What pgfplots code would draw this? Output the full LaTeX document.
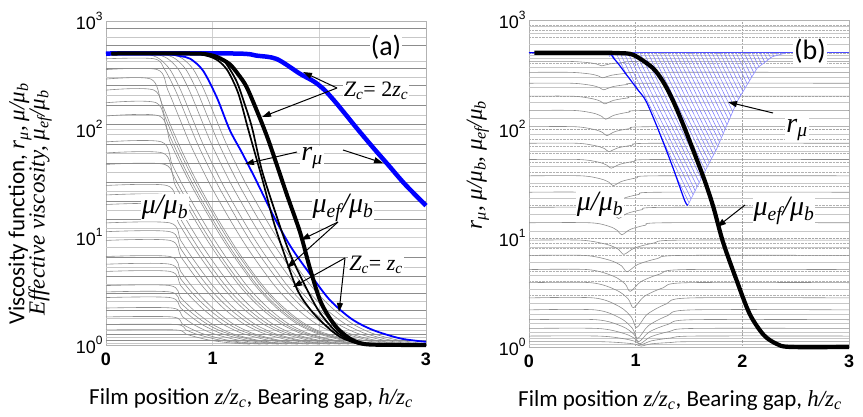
\documentclass[border=0pt]{standalone}
\usepackage{fontspec}
\setmainfont{Carlito}
\newfontfamily\arial{Liberation Sans}
\newfontfamily\tms{Liberation Serif}
\usepackage{pgfplots}
\pgfplotsset{compat=1.18}
\usetikzlibrary{arrows.meta,patterns.meta}
\newcommand{\mi}[1]{{\tms\itshape #1}}
\newcommand{\su}[1]{\textsubscript{\tms\itshape #1}}
\newcommand{\tenp}[1]{10\raisebox{0.5em}{\fontsize{12}{12}\selectfont #1}}
\tikzset{
  hl/.style={black!22, line width=0.7pt},
  hd/.style={black!45, line width=0.7pt},
  gc/.style={black!45, line width=0.6pt, smooth, tension=0.5},
  arr/.style={-{Triangle[length=9pt,width=6pt]}, line width=1pt},
}
\begin{document}
\begin{tikzpicture}[x=1pt,y=1pt]
\useasboundingbox (0,0) rectangle (863,416);
% ---------------- panel (a)
\begin{axis}[ymode=log, scale only axis, width=320pt, height=324pt, at={(106pt,71pt)}, anchor=south west,
    xmin=0, xmax=3, ymin=1, ymax=1000,
    xtick={0,1,2,3}, xticklabels={0,1,2,3},
    ytick={1,10,100,1000}, yticklabels={\tenp{0},\tenp{1},\tenp{2},\tenp{3}},
    major tick length=0pt, minor tick length=0pt,
    xticklabel style={font=\arial\bfseries\fontsize{18}{20}\selectfont, yshift=-4pt},
    yticklabel style={font=\arial\fontsize{18}{20}\selectfont},
    axis line style={gray!60, line width=0.8pt}, clip=false,
    xmajorgrids, ymajorgrids, grid style={gray!35, line width=0.6pt}]
\pgfplotsinvokeforeach{1.035,1.175,1.380,1.778,2.512,3.631,5.248,7.943,12.02,17.78,26.30,39.81,58.88,89.13,134.9,204.2,302.0,426.6,707.9}{\addplot[hl] coordinates {(0,#1) (3,#1)};}
\pgfplotsinvokeforeach{1.096,1.259,1.549,2.089,3.020,4.365,6.457,14.45,21.38,32.36,47.86,72.44,109.6,166.0,251.2,363.1,588.8,851.1}{\addplot[hd] coordinates {(0,#1) (3,#1)};}
% grey family mu/mu_b
\addplot[gc] coordinates {(0,500)(0.30,500)(0.40,490)(0.50,447)(0.60,355)(0.70,229)(0.80,132)(0.90,76)(1.00,47)(1.10,30)(1.20,20)(1.30,13.5)(1.40,9.3)(1.50,6.6)(1.60,4.8)(1.70,3.55)(1.80,2.75)(1.90,2.2)(2.00,1.82)(2.10,1.55)(2.20,1.38)(2.30,1.26)(2.50,1.12)(2.70,1.05)(2.90,1.02)};
\addplot[gc] coordinates {(0,500)(0.38,500)(0.48,490)(0.58,447)(0.68,355)(0.78,229)(0.88,132)(0.98,76)(1.08,47)(1.18,30)(1.28,20)(1.38,13.5)(1.48,9.3)(1.58,6.6)(1.68,4.8)(1.78,3.55)(1.88,2.75)(1.98,2.2)(2.08,1.82)(2.18,1.55)(2.28,1.38)(2.38,1.26)(2.58,1.12)(2.78,1.05)(2.98,1.02)};
\addplot[gc] coordinates {(0,500)(0.45,500)(0.55,490)(0.65,447)(0.75,355)(0.85,229)(0.95,132)(1.05,76)(1.15,47)(1.25,30)(1.35,20)(1.45,13.5)(1.55,9.3)(1.65,6.6)(1.75,4.8)(1.85,3.55)(1.95,2.75)(2.05,2.2)(2.15,1.82)(2.25,1.55)(2.35,1.38)(2.45,1.26)(2.65,1.12)(2.85,1.05)(3,1.03)};
\addplot[gc] coordinates {(0,500)(0.52,500)(0.62,490)(0.72,447)(0.82,355)(0.92,229)(1.02,132)(1.12,76)(1.22,47)(1.32,30)(1.42,20)(1.52,13.5)(1.62,9.3)(1.72,6.6)(1.82,4.8)(1.92,3.55)(2.02,2.75)(2.12,2.2)(2.22,1.82)(2.32,1.55)(2.42,1.38)(2.52,1.26)(2.72,1.12)(2.92,1.05)(3,1.04)};
\addplot[gc] coordinates {(0,447)(0.45,447)(0.55,355)(0.65,229)(0.75,132)(0.85,76)(0.95,47)(1.05,30)(1.15,20)(1.25,13.5)(1.35,9.3)(1.45,6.6)(1.55,4.8)(1.65,3.55)(1.75,2.75)(1.85,2.2)(1.95,1.82)(2.05,1.55)(2.15,1.38)(2.25,1.26)(2.45,1.12)(2.65,1.05)(2.85,1.02)};
\addplot[gc] coordinates {(0,355)(0.48,355)(0.58,229)(0.68,132)(0.78,76)(0.88,47)(0.98,30)(1.08,20)(1.18,13.5)(1.28,9.3)(1.38,6.6)(1.48,4.8)(1.58,3.55)(1.68,2.75)(1.78,2.2)(1.88,1.82)(1.98,1.55)(2.08,1.38)(2.18,1.26)(2.38,1.12)(2.58,1.05)(2.78,1.02)};
\addplot[gc] coordinates {(0,290)(0.42,290)(0.52,175)(0.62,100)(0.72,60)(0.82,37.5)(0.92,24.5)(1.02,16.4)(1.12,11.2)(1.22,7.8)(1.32,5.6)(1.42,4.1)(1.52,3.1)(1.62,2.45)(1.72,2.0)(1.82,1.68)(1.92,1.46)(2.02,1.32)(2.17,1.19)(2.37,1.08)(2.57,1.03)};
\addplot[gc] coordinates {(0,229)(0.45,229)(0.55,132)(0.65,76)(0.75,47)(0.85,30)(0.95,20)(1.05,13.5)(1.15,9.3)(1.25,6.6)(1.35,4.8)(1.45,3.55)(1.55,2.75)(1.65,2.2)(1.75,1.82)(1.85,1.55)(1.95,1.38)(2.05,1.26)(2.25,1.12)(2.45,1.05)(2.65,1.02)};
\addplot[gc] coordinates {(0,175)(0.47,175)(0.57,100)(0.67,60)(0.77,37.5)(0.87,24.5)(0.97,16.4)(1.07,11.2)(1.17,7.8)(1.27,5.6)(1.37,4.1)(1.47,3.1)(1.57,2.45)(1.67,2.0)(1.77,1.68)(1.87,1.46)(1.97,1.32)(2.12,1.19)(2.32,1.08)(2.52,1.03)};
\addplot[gc] coordinates {(0,132)(0.50,132)(0.60,76)(0.70,47)(0.80,30)(0.90,20)(1.00,13.5)(1.10,9.3)(1.20,6.6)(1.30,4.8)(1.40,3.55)(1.50,2.75)(1.60,2.2)(1.70,1.82)(1.80,1.55)(1.90,1.38)(2.00,1.26)(2.20,1.12)(2.40,1.05)(2.60,1.02)};
\addplot[gc] coordinates {(0,76)(0.52,76)(0.62,47)(0.72,30)(0.82,20)(0.92,13.5)(1.02,9.3)(1.12,6.6)(1.22,4.8)(1.32,3.55)(1.42,2.75)(1.52,2.2)(1.62,1.82)(1.72,1.55)(1.82,1.38)(1.92,1.26)(2.12,1.12)(2.32,1.05)(2.52,1.02)};
\addplot[gc] coordinates {(0,60)(0.53,60)(0.63,37.5)(0.73,24.5)(0.83,16.4)(0.93,11.2)(1.03,7.8)(1.13,5.6)(1.23,4.1)(1.33,3.1)(1.43,2.45)(1.53,2.0)(1.63,1.68)(1.73,1.46)(1.83,1.32)(1.98,1.19)(2.18,1.08)(2.38,1.03)};
\addplot[gc] coordinates {(0,47)(0.55,47)(0.65,30)(0.75,20)(0.85,13.5)(0.95,9.3)(1.05,6.6)(1.15,4.8)(1.25,3.55)(1.35,2.75)(1.45,2.2)(1.55,1.82)(1.65,1.55)(1.75,1.38)(1.85,1.26)(2.05,1.12)(2.25,1.05)(2.45,1.02)};
\addplot[gc] coordinates {(0,30)(0.57,30)(0.67,20)(0.77,13.5)(0.87,9.3)(0.97,6.6)(1.07,4.8)(1.17,3.55)(1.27,2.75)(1.37,2.2)(1.47,1.82)(1.57,1.55)(1.67,1.38)(1.77,1.26)(1.97,1.12)(2.17,1.05)(2.37,1.02)};
\addplot[gc] coordinates {(0,24.5)(0.57,24.5)(0.67,16.4)(0.77,11.2)(0.87,7.8)(0.97,5.6)(1.07,4.1)(1.17,3.1)(1.27,2.45)(1.37,2.0)(1.47,1.68)(1.57,1.46)(1.67,1.32)(1.82,1.19)(2.02,1.08)(2.22,1.03)};
\addplot[gc] coordinates {(0,20)(0.58,20)(0.68,13.5)(0.78,9.3)(0.88,6.6)(0.98,4.8)(1.08,3.55)(1.18,2.75)(1.28,2.2)(1.38,1.82)(1.48,1.55)(1.58,1.38)(1.68,1.26)(1.88,1.12)(2.08,1.05)(2.28,1.02)};
\addplot[gc] coordinates {(0,13.5)(0.60,13.5)(0.70,9.3)(0.80,6.6)(0.90,4.8)(1.00,3.55)(1.10,2.75)(1.20,2.2)(1.30,1.82)(1.40,1.55)(1.50,1.38)(1.60,1.26)(1.80,1.12)(2.00,1.05)(2.20,1.02)};
\addplot[gc] coordinates {(0,11.2)(0.6,11.2)(0.7,7.8)(0.8,5.6)(0.9,4.1)(1.0,3.1)(1.1,2.45)(1.2,2.0)(1.3,1.68)(1.4,1.46)(1.5,1.32)(1.65,1.19)(1.85,1.08)(2.05,1.03)};
\addplot[gc] coordinates {(0,9.3)(0.60,9.3)(0.70,6.6)(0.80,4.8)(0.90,3.55)(1.00,2.75)(1.10,2.2)(1.20,1.82)(1.30,1.55)(1.40,1.38)(1.50,1.26)(1.70,1.12)(1.90,1.05)(2.10,1.02)};
\addplot[gc] coordinates {(0,6.6)(0.60,6.6)(0.70,4.8)(0.80,3.55)(0.90,2.75)(1.00,2.2)(1.10,1.82)(1.20,1.55)(1.30,1.38)(1.40,1.26)(1.60,1.12)(1.80,1.05)(2.00,1.02)};
\addplot[gc] coordinates {(0,5.6)(0.6,5.6)(0.7,4.1)(0.8,3.1)(0.9,2.45)(1.0,2.0)(1.1,1.68)(1.2,1.46)(1.3,1.32)(1.45,1.19)(1.65,1.08)(1.85,1.03)};
\addplot[gc] coordinates {(0,4.8)(0.60,4.8)(0.70,3.55)(0.80,2.75)(0.90,2.2)(1.00,1.82)(1.10,1.55)(1.20,1.38)(1.30,1.26)(1.50,1.12)(1.70,1.05)(1.90,1.02)};
\addplot[gc] coordinates {(0,3.55)(0.60,3.55)(0.70,2.75)(0.80,2.2)(0.90,1.82)(1.00,1.55)(1.10,1.38)(1.20,1.26)(1.40,1.12)(1.60,1.05)(1.80,1.02)};
\addplot[gc] coordinates {(0,3.1)(0.6,3.1)(0.7,2.45)(0.8,2.0)(0.9,1.68)(1.0,1.46)(1.1,1.32)(1.25,1.19)(1.45,1.08)(1.65,1.03)};
\addplot[gc] coordinates {(0,2.75)(0.60,2.75)(0.70,2.2)(0.80,1.82)(0.90,1.55)(1.00,1.38)(1.10,1.26)(1.30,1.12)(1.50,1.05)(1.70,1.02)};
\addplot[gc] coordinates {(0,2.2)(0.62,2.2)(0.72,1.82)(0.82,1.55)(0.92,1.38)(1.02,1.26)(1.22,1.12)(1.42,1.05)(1.62,1.02)};
\addplot[gc] coordinates {(0,1.82)(0.62,1.82)(0.72,1.55)(0.82,1.38)(0.92,1.26)(1.12,1.12)(1.32,1.05)(1.52,1.02)};
\addplot[gc] coordinates {(0,1.55)(0.65,1.55)(0.75,1.38)(0.85,1.26)(1.05,1.12)(1.25,1.05)(1.45,1.02)};
\addplot[gc] coordinates {(0,1.38)(0.65,1.38)(0.75,1.26)(0.95,1.12)(1.15,1.05)(1.35,1.02)};
% r_mu, Zc = zc (thin blue)
\addplot[blue, line width=1.8pt, smooth, tension=0.5] coordinates {(0,500)(0.5,500)(0.6,492)(0.7,472)(0.79,447)(0.91,347)(1.04,195)(1.16,98)(1.28,59)(1.41,33)(1.58,15)(1.74,7.9)(1.93,4.3)(2.1,2.6)(2.3,1.75)(2.5,1.38)(2.76,1.15)(3.0,1.07)};
% r_mu, Zc = 2zc (thick blue)
\addplot[blue, line width=4.5pt, smooth, tension=0.5] coordinates {(0,500)(1.2,500)(1.41,478)(1.6,445)(1.82,324)(1.95,275)(2.05,229)(2.15,178)(2.25,135)(2.35,102)(2.5,68)(2.65,46)(2.8,31)(3,19.5)};
% mu_ef thin blacks
\addplot[black, line width=1.7pt, smooth, tension=0.5] coordinates {(0.05,500)(0.8,500)(0.95,475)(1.05,430)(1.14,347)(1.24,214)(1.33,102)(1.40,58)(1.47,33)(1.57,14)(1.66,7.5)(1.79,3.3)(1.92,2.1)(2.07,1.48)(2.2,1.18)(2.35,1.04)(2.5,1.0)(3,1.0)};
\addplot[black, line width=1.7pt, smooth, tension=0.5] coordinates {(0.05,500)(0.85,500)(1.0,478)(1.1,435)(1.22,282)(1.30,170)(1.37,102)(1.46,42)(1.58,17.8)(1.71,7.6)(1.84,4.0)(1.99,2.1)(2.15,1.35)(2.3,1.08)(2.45,1.01)(3,1.0)};
% mu_ef thick black
\addplot[black, line width=4pt, smooth, tension=0.5] coordinates {(0.05,500)(0.8,500)(0.95,490)(1.05,460)(1.16,398)(1.24,320)(1.32,243)(1.44,128)(1.52,80)(1.60,47)(1.70,24)(1.82,11)(1.91,5.2)(2.0,2.7)(2.07,1.96)(2.15,1.5)(2.22,1.28)(2.32,1.1)(2.47,1.01)(3,1)};
\end{axis}
% ---------------- panel (b)
\begin{axis}[ymode=log, scale only axis, width=320pt, height=327pt, at={(529pt,69pt)}, anchor=south west,
    xmin=0, xmax=3, ymin=1, ymax=1000,
    xtick={0,1,2,3}, xticklabels={0,1,2,3},
    ytick={1,10,100,1000}, yticklabels={\tenp{0},\tenp{1},\tenp{2},\tenp{3}},
    major tick length=0pt, minor tick length=0pt,
    xticklabel style={font=\arial\bfseries\fontsize{18}{20}\selectfont, yshift=-4pt},
    yticklabel style={font=\arial\fontsize{18}{20}\selectfont},
    axis line style={gray!60, line width=0.8pt}, clip=false,
    xmajorgrids, ymajorgrids, yminorgrids,
    major grid style={gray!70, densely dotted, line width=0.5pt},
    minor grid style={gray!60, densely dotted, line width=0.5pt}]
\pgfplotsinvokeforeach{1.05,1.19,1.37,1.65,2.0,2.5,3.4,4.5,6.0,8.2,11.5,16.5,23,32,45,63,90,125,175,240,300,370,445,470,600,750,880}{\addplot[hl] coordinates {(0,#1) (3,#1)};}
\addplot[gc] coordinates {(0,417)(0.38,417)(0.56,406)(0.64,393)(0.68,380)(0.76,396)(0.90,409)(1.08,417)(3,417)};
\addplot[gc] coordinates {(0,331)(0.39,331)(0.57,320)(0.65,307)(0.69,295)(0.77,311)(0.91,324)(1.09,331)(3,331)};
\addplot[gc] coordinates {(0,263)(0.40,263)(0.58,252)(0.66,240)(0.70,229)(0.78,244)(0.92,256)(1.10,263)(3,263)};
\addplot[gc] coordinates {(0,200)(0.41,200)(0.59,190)(0.67,180)(0.71,170)(0.79,183)(0.93,193)(1.11,200)(3,200)};
\addplot[gc] coordinates {(0,148)(0.42,148)(0.60,140)(0.68,131)(0.72,123)(0.80,134)(0.94,143)(1.12,148)(3,148)};
\addplot[gc] coordinates {(0,105)(0.43,105)(0.61,99)(0.69,93)(0.73,87)(0.81,95)(0.95,101)(1.13,105)(3,105)};
\addplot[gc] coordinates {(0,74)(0.45,74)(0.63,70)(0.71,66)(0.75,62)(0.83,67)(0.97,71)(1.15,74)(3,74)};
\addplot[gc] coordinates {(0,52.5)(0.47,52.5)(0.65,49.7)(0.73,46.6)(0.77,43.7)(0.85,47.4)(0.99,50.6)(1.17,52.5)(3,52.5)};
\addplot[gc] coordinates {(0,37.2)(0.49,37.2)(0.67,34.9)(0.75,32.5)(0.79,30.2)(0.87,33.1)(1.01,35.6)(1.19,37.2)(3,37.2)};
\addplot[gc] coordinates {(0,26.3)(0.51,26.3)(0.69,24.5)(0.77,22.6)(0.81,20.9)(0.89,23.2)(1.03,25.1)(1.21,26.3)(3,26.3)};
\addplot[gc] coordinates {(0,19.1)(0.54,19.1)(0.72,17.8)(0.80,16.4)(0.84,15.1)(0.92,16.8)(1.06,18.2)(1.24,19.1)(3,19.1)};
\addplot[gc] coordinates {(0,13.8)(0.57,13.8)(0.75,12.8)(0.83,11.7)(0.87,10.7)(0.95,12.0)(1.09,13.1)(1.27,13.8)(3,13.8)};
\addplot[gc] coordinates {(0,9.55)(0.49,9.55)(0.73,8.73)(0.84,7.86)(0.89,7.08)(0.99,8.10)(1.17,8.99)(1.39,9.55)(3,9.55)};
\addplot[gc] coordinates {(0,6.92)(0.52,6.92)(0.76,6.24)(0.87,5.53)(0.92,4.90)(1.02,5.72)(1.20,6.46)(1.42,6.92)(3,6.92)};
\addplot[gc] coordinates {(0,5.13)(0.55,5.13)(0.79,4.47)(0.90,3.80)(0.95,3.24)(1.05,3.98)(1.23,4.68)(1.45,5.13)(3,5.13)};
\addplot[gc] coordinates {(0,3.89)(0.58,3.89)(0.82,3.32)(0.93,2.76)(0.98,2.29)(1.08,2.91)(1.26,3.50)(1.48,3.89)(3,3.89)};
\addplot[gc] coordinates {(0,2.82)(0.61,2.82)(0.85,2.34)(0.96,1.88)(1.01,1.51)(1.11,2.00)(1.29,2.49)(1.51,2.82)(3,2.82)};
\addplot[gc] coordinates {(0,2.19)(0.62,2.19)(0.86,1.83)(0.97,1.48)(1.02,1.20)(1.12,1.57)(1.30,1.94)(1.52,2.19)(3,2.19)};
\addplot[gc] coordinates {(0,1.78)(0.63,1.78)(0.87,1.55)(0.98,1.32)(1.03,1.12)(1.13,1.38)(1.31,1.62)(1.53,1.78)(3,1.78)};
\addplot[gc] coordinates {(0,1.48)(0.64,1.48)(0.88,1.34)(0.99,1.20)(1.04,1.07)(1.14,1.24)(1.32,1.39)(1.54,1.48)(3,1.48)};
\addplot[gc] coordinates {(0,1.26)(0.65,1.26)(0.89,1.19)(1.00,1.12)(1.05,1.05)(1.15,1.14)(1.33,1.21)(1.55,1.26)(3,1.26)};
\addplot[gc] coordinates {(0,1.12)(0.65,1.12)(0.89,1.09)(1.00,1.06)(1.05,1.02)(1.15,1.07)(1.33,1.10)(1.55,1.12)(3,1.12)};
% r_mu hatched family
\addplot[draw=none, pattern={Lines[angle=-64,distance=3.6pt,line width=0.5pt]}, pattern color=blue!55] coordinates {(0.69,500)(0.80,437)(0.92,309)(1.02,229)(1.10,178)(1.23,89)(1.35,44)(1.46,22)(1.49,20)(1.62,36)(1.76,66)(1.95,178)(2.05,260)(2.14,363)(2.28,460)(2.41,500)(0.69,500)};
\addplot[blue!45, line width=0.6pt] coordinates {(1.49,20)(1.62,36)(1.76,66)(1.95,178)(2.05,260)(2.14,363)(2.28,460)(2.41,500)};
\addplot[blue!70, line width=0.8pt] coordinates {(0,500)(3,500)};
\addplot[blue, line width=1.2pt, smooth, tension=0.5] coordinates {(0,500)(0.69,500)(0.80,437)(0.92,309)(1.02,229)(1.10,178)(1.23,89)(1.35,44)(1.46,22)(1.49,20)};
% mu_ef thick black
\addplot[black, line width=4.2pt, smooth, tension=0.5] coordinates {(0.05,500)(0.7,500)(0.85,497)(0.98,478)(1.16,363)(1.26,269)(1.35,182)(1.45,107)(1.55,60)(1.65,33)(1.73,19)(1.82,9.1)(1.95,4.0)(2.07,2.0)(2.2,1.29)(2.32,1.07)(2.45,1.0)(3,1)};
\end{axis}
% ---------------- texts and arrows
\node[rotate=90, font=\fontsize{23}{26}\selectfont] at (20,212) {Viscosity function, \mi{r}\su{μ}\mi{,} \mi{μ/μ}\su{b}};
\node[rotate=90, font=\tms\itshape\fontsize{23}{26}\selectfont] at (40,213) {Effective viscosity, μ\textsubscript{ef}/μ\textsubscript{b}};
\node[rotate=90, font=\tms\itshape\fontsize{23}{26}\selectfont, fill=white, inner sep=2pt] at (478,251) {r\textsubscript{μ}, μ/μ\textsubscript{b}, μ\textsubscript{ef}/μ\textsubscript{b}};
\node[font=\fontsize{23}{26}\selectfont] at (251,18) {Film position \mi{z/z}\su{c}, Bearing gap, \mi{h/z}\su{c}};
\node[font=\fontsize{23}{26}\selectfont] at (680,16) {Film position \mi{z/z}\su{c}, Bearing gap, \mi{h/z}\su{c}};
% panel a labels
\node[fill=white, inner sep=1pt, font=\fontsize{28}{30}\selectfont] at (386,369) {(a)};
\node[fill=white, inner sep=1pt, font=\tms\itshape\fontsize{28}{30}\selectfont] at (165,209) {μ/μ\textsubscript{b}};
\node[fill=white, inner sep=1pt, font=\tms\itshape\fontsize{28}{30}\selectfont] at (312,258) {r\textsubscript{μ}};
\node[fill=white, inner sep=1pt, font=\tms\itshape\fontsize{28}{30}\selectfont] at (343,208) {μ\textsubscript{ef}/μ\textsubscript{b}};
\node[fill=white, inner sep=1pt, font=\tms\itshape\fontsize{22}{24}\selectfont] at (376,325) {Z\textsubscript{c}\upshape{}= 2\itshape z\textsubscript{c}};
\node[fill=white, inner sep=1pt, font=\tms\itshape\fontsize{22}{24}\selectfont] at (376,151) {Z\textsubscript{c}\upshape{}= \itshape z\textsubscript{c}};
\draw[arr] (337,328) -- (303,344);
\draw[arr] (337,328) -- (262,299);
\draw[arr] (297,264) -- (245,252);
\draw[arr] (343,266) -- (383,253);
\draw[arr] (338,194) -- (301,176);
\draw[arr] (338,194) -- (287,148);
\draw[arr] (345,158) -- (293,129);
\draw[arr] (345,158) -- (339,104);
% panel b labels
\node[fill=white, inner sep=1pt, font=\fontsize{28}{30}\selectfont] at (810,365) {(b)};
\node[fill=white, inner sep=1pt, font=\tms\itshape\fontsize{28}{30}\selectfont] at (797,286) {r\textsubscript{μ}};
\node[fill=white, inner sep=1pt, font=\tms\itshape\fontsize{28}{30}\selectfont] at (600,212) {μ/μ\textsubscript{b}};
\node[fill=white, inner sep=1pt, font=\tms\itshape\fontsize{28}{30}\selectfont] at (784,205) {μ\textsubscript{ef}/μ\textsubscript{b}};
\draw[arr] (773,303) -- (728,314);
\draw[arr] (745,211) -- (717,189);
\end{tikzpicture}
\end{document}
